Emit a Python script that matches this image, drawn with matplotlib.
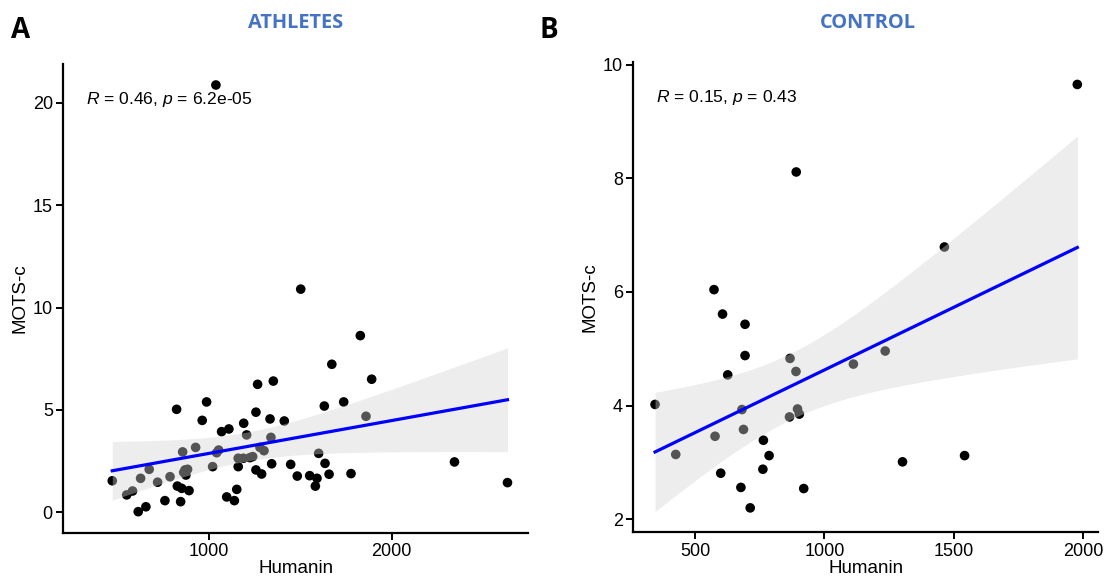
import numpy as np
import matplotlib
matplotlib.use("Agg")
import matplotlib.pyplot as plt

plt.rcParams['font.family'] = ['Liberation Sans', 'DejaVu Sans']
plt.rcParams['mathtext.fontset'] = 'custom'
plt.rcParams['mathtext.it'] = 'Liberation Sans:italic'
plt.rcParams['mathtext.rm'] = 'Liberation Sans'

# athletes: Humanin vs MOTS-c
ath_humanin = [471, 550, 582, 613, 655, 626, 673, 719, 759, 787, 823, 856, 827, 851, 845,
               891, 869, 883, 874, 862, 927, 963, 987, 1020, 1042, 1053, 1069, 1109, 1097,
               1139, 1152, 1160, 1160, 1188, 1206, 1190, 1224, 1239, 1257, 1266, 1257, 1288,
               1279, 1301, 1334, 1352, 1339, 1343, 1412, 1447, 1483, 1551, 1591, 1582, 1600,
               1635, 1657, 1631, 1672, 1737, 1777, 1502, 1828, 1890, 1859, 2343, 2633, 1038]
ath_motsc = [1.54, 0.85, 1.04, 0.03, 0.27, 1.66, 2.10, 1.47, 0.57, 1.74, 5.03, 2.95, 1.28, 1.17, 0.52,
             1.06, 2.07, 2.10, 1.82, 1.95, 3.17, 4.49, 5.39, 2.23, 2.91, 3.04, 3.94, 4.07, 0.75,
             0.57, 1.12, 2.23, 2.64, 2.64, 3.78, 4.35, 2.67, 2.72, 4.89, 6.25, 2.07, 1.87,
             3.17, 3.01, 4.56, 6.41, 3.66, 2.37, 4.46, 2.34, 1.77, 1.79, 1.66, 1.28, 2.88,
             2.39, 1.86, 5.19, 7.23, 5.39, 1.89, 10.90, 8.63, 6.50, 4.69, 2.46, 1.45, 20.87]

# control
ctl_humanin = [345, 425, 573, 606, 626, 577, 599, 677, 713, 681, 687, 693, 693, 764, 786, 762,
               867, 890, 865, 896, 903, 891, 920, 1112, 1464, 1235, 1302, 1542, 1978]
ctl_motsc = [4.02, 3.14, 6.04, 5.61, 4.54, 3.46, 2.81, 2.56, 2.20, 3.93, 3.58, 5.43, 4.88, 3.39, 3.12, 2.88,
             4.83, 4.60, 3.80, 3.94, 3.85, 8.11, 2.54, 4.73, 6.79, 4.96, 3.01, 3.12, 9.65]

stats_text = [r'$\it{R}$ = 0.46, $\it{p}$ = 6.2e-05', r'$\it{R}$ = 0.15, $\it{p}$ = 0.43']
titles = ['ATHLETES', 'CONTROL']
letters = ['A', 'B']


def t975(df):
    z = 1.959964
    return z + (z**3 + z) / (4 * df) + (5 * z**5 + 16 * z**3 + 3 * z) / (96 * df**2)


def reg_panel(ax, x, y):
    x = np.array(x, float)
    y = np.array(y, float)
    n = len(x)
    ax.scatter(x, y, s=48, color='black', edgecolors='none', zorder=2)
    b, a = np.polyfit(x, y, 1)
    xs = np.linspace(x.min(), x.max(), 100)
    ys = a + b * xs
    resid = y - (a + b * x)
    s = np.sqrt(np.sum(resid**2) / (n - 2))
    se = s * np.sqrt(1 / n + (xs - x.mean())**2 / np.sum((x - x.mean())**2))
    h = t975(n - 2) * se
    # ribbon over the points, like ggplot
    ax.fill_between(xs, ys - h, ys + h, color='#d3d3d3', alpha=0.4, lw=0, zorder=3)
    ax.plot(xs, ys, color='blue', lw=2.3, zorder=4)


fig = plt.figure(figsize=(11.08, 5.81), dpi=100)
ax1 = fig.add_axes([0.0571, 0.083, 0.4194, 0.807])
ax2 = fig.add_axes([0.5716, 0.0838, 0.4196, 0.809])

reg_panel(ax1, ath_humanin, ath_motsc)
reg_panel(ax2, ctl_humanin, ctl_motsc)

ax1.set_xlim(203, 2745)
ax1.set_ylim(-1.0, 21.9)
ax1.set_xticks([1000, 2000])
ax1.set_yticks([0, 5, 10, 15, 20])
ax2.set_xlim(261, 2059)
ax2.set_ylim(1.77, 10.04)
ax2.set_xticks([500, 1000, 1500, 2000])
ax2.set_yticks([2, 4, 6, 8, 10])

for i, ax in enumerate([ax1, ax2]):
    for sp in ['top', 'right']:
        ax.spines[sp].set_visible(False)
    for sp in ['left', 'bottom']:
        ax.spines[sp].set_linewidth(1.6)
    ax.tick_params(direction='out', length=5, width=1.4, labelsize=13, colors='black', pad=2.5)
    ax.set_xlabel('Humanin', fontsize=13.5, labelpad=0)
    ax.set_ylabel('MOTS-c', fontsize=13.5, labelpad=3)
    ax.text(0.049, 0.925, stats_text[i], transform=ax.transAxes, fontsize=12.6, va='center', ha='left')

fig.text(0.267, 0.96, titles[0], color='#4472C4', fontsize=14.4, fontweight='bold',
         family='Open Sans', ha='center', va='center')
fig.text(0.783, 0.96, titles[1], color='#4472C4', fontsize=14.4, fontweight='bold',
         family='Open Sans', ha='center', va='center')
fig.text(0.0185, 0.947, letters[0], fontsize=20, fontweight='bold', family='Open Sans', ha='center', va='center')
fig.text(0.4955, 0.947, letters[1], fontsize=20, fontweight='bold', family='Open Sans', ha='center', va='center')

fig.savefig('out.png', dpi=100)
